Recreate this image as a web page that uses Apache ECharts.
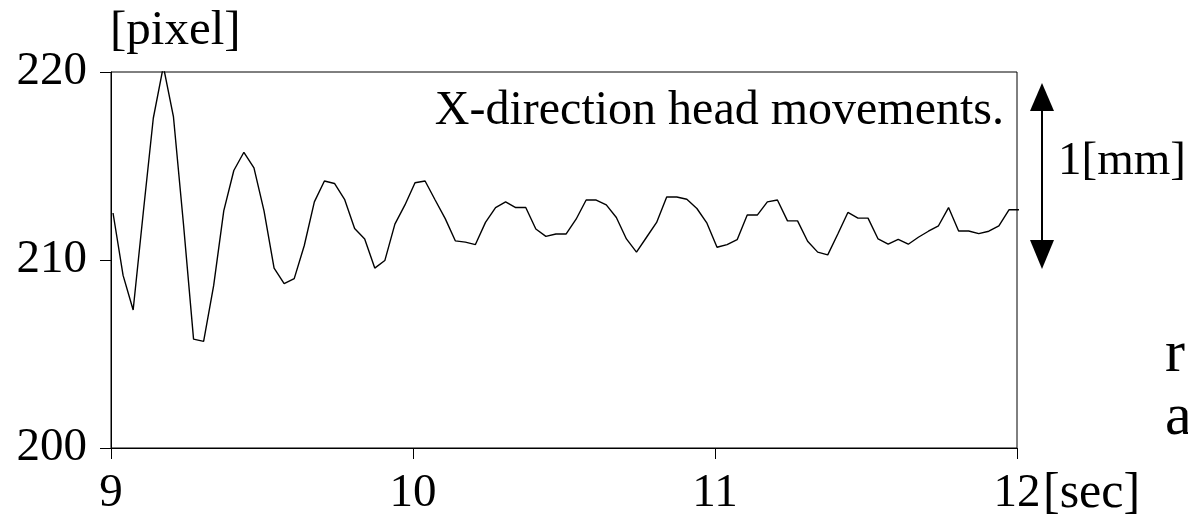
<!DOCTYPE html>
<html>
<head>
<meta charset="utf-8">
<script src="https://cdn.jsdelivr.net/npm/echarts@6/dist/echarts.min.js"></script>
<style>
html,body{margin:0;padding:0;background:#fff;}
#chart{width:1188px;height:517px;}
</style>
</head>
<body>
<div id="chart"></div>
<script>
// Sampled at 30 Hz, first sample just after 9 s
var startTime = 9.0067;
var sampleStep = 1 / 30;
var headX = [
  212.5, 209.18, 207.34, 212.5, 217.54, 220.3, 217.63, 211.9, 205.79, 205.67,
  208.65, 212.61, 214.76, 215.73, 214.9, 212.61, 209.57, 208.74, 209.01, 210.77,
  213.09, 214.2, 214.07, 213.23, 211.68, 211.12, 209.57, 209.97, 211.91, 212.93,
  214.11, 214.2, 213.19, 212.2, 211.02, 210.95, 210.82, 212.0, 212.79, 213.09,
  212.79, 212.79, 211.65, 211.26, 211.38, 211.38, 212.17, 213.19, 213.19, 212.93,
  212.26, 211.12, 210.42, 211.21, 212.0, 213.35, 213.35, 213.23, 212.74, 211.96,
  210.68, 210.82, 211.08, 212.39, 212.39, 213.09, 213.19, 212.08, 212.08, 211.0,
  210.42, 210.27, 211.38, 212.53, 212.23, 212.23, 211.12, 210.84, 211.1, 210.84,
  211.21, 211.53, 211.82, 212.79, 211.54, 211.54, 211.4, 211.53, 211.82, 212.67,
  212.67
];
var xTicks = [9, 10, 11, 12];
var yTicks = [200, 210, 220];
var yUnit = '[pixel]';
var xUnit = '[sec]';
var annotation = 'X-direction head movements.';
var scaleLabel = '1[mm]';

var seriesData = headX.map(function (v, i) { return [startTime + i * sampleStep, v]; });

var FONT = 'Liberation Serif';
var FS = 47;
function f(sz) { return sz + 'px "' + FONT + '"'; }
var chart = echarts.init(document.getElementById('chart'), null, {renderer: 'canvas'});
chart.setOption({
  animation: false,
  backgroundColor: '#fff',
  grid: {left: 111, right: 171, top: 72, bottom: 66, show: true, borderColor: '#000', borderWidth: 1, backgroundColor: 'transparent'},
  xAxis: {
    type: 'value', min: xTicks[0], max: xTicks[xTicks.length - 1], interval: 1,
    axisLine: {show: true, lineStyle: {color: '#000', width: 1}},
    axisTick: {show: true, inside: false, length: 11, lineStyle: {color: '#000', width: 1}},
    axisLabel: {color: '#000', fontFamily: FONT, fontSize: FS, margin: 22},
    splitLine: {show: false}
  },
  yAxis: {
    type: 'value', min: yTicks[0], max: yTicks[yTicks.length - 1], interval: 10,
    axisLine: {show: true, lineStyle: {color: '#000', width: 1}},
    axisTick: {show: true, inside: false, length: 11, lineStyle: {color: '#000', width: 1}},
    axisLabel: {color: '#000', fontFamily: FONT, fontSize: FS, margin: 24},
    splitLine: {show: false}
  },
  series: [{
    type: 'line', data: seriesData, showSymbol: false, symbol: 'none', clip: true,
    lineStyle: {color: '#000', width: 1.4}
  }],
  graphic: [
    {type: 'text', left: 110, top: 7, style: {text: yUnit, font: f(49), fill: '#000'}},
    {type: 'text', x: 1004, y: 111, style: {text: annotation, font: f(48), fill: '#000', textAlign: 'right', textVerticalAlign: 'middle'}},
    {type: 'text', x: 1058, y: 162, style: {text: scaleLabel, font: f(FS), fill: '#000', textAlign: 'left', textVerticalAlign: 'middle'}},
    {type: 'text', x: 1043, y: 494, style: {text: xUnit, font: f(50), fill: '#000', textAlign: 'left', textVerticalAlign: 'middle'}},
    {type: 'text', x: 1165, y: 355, style: {text: 'r', font: f(60), fill: '#000', textAlign: 'left', textVerticalAlign: 'middle'}},
    {type: 'text', x: 1165, y: 418, style: {text: 'a', font: f(60), fill: '#000', textAlign: 'left', textVerticalAlign: 'middle'}},
    {type: 'line', shape: {x1: 1042, y1: 108, x2: 1042, y2: 242}, style: {stroke: '#000', lineWidth: 2}},
    {type: 'polygon', shape: {points: [[1042, 83], [1030, 111], [1054, 111]]}, style: {fill: '#000'}},
    {type: 'polygon', shape: {points: [[1042, 269], [1030, 240], [1054, 240]]}, style: {fill: '#000'}}
  ]
});
</script>
</body>
</html>
